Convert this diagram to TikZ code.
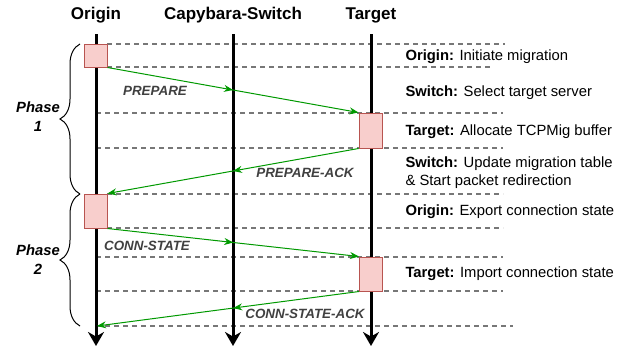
\documentclass[tikz,border=0pt]{standalone}
\usepackage{fontspec}
\setmainfont{Liberation Sans}
\usetikzlibrary{arrows.meta, positioning, calc, decorations.pathreplacing, decorations.markings}

\definecolor{boxfill}{HTML}{F8CECC}
\definecolor{boxline}{HTML}{B85450}
\definecolor{msggreen}{HTML}{009900}
\definecolor{msgtext}{HTML}{404040}
\definecolor{gridgray}{HTML}{777777}

\begin{document}
\begin{tikzpicture}[
    x=1pt, y=-1pt,
    title/.style={font=\fontsize{17}{20}\selectfont\bfseries},
    lifeline/.style={line width=3pt, -{Stealth[length=14pt, width=16pt]}},
    procbox/.style={draw=boxline, fill=boxfill, line width=1pt, inner sep=0pt, minimum width=23pt},
    grid/.style={draw=gridgray, line width=1.4pt, dash pattern=on 5pt off 4pt},
    msg/.style={draw=msggreen, line width=1pt, -{Stealth[length=9pt, width=7pt]}},
    midarrow/.style={postaction={decorate}, decoration={markings,
        mark=at position #1 with {\arrow{Stealth[length=9pt, width=7pt, msggreen]}}}},
    msglabel/.style={font=\fontsize{13.4}{16}\selectfont\bfseries\itshape, text=msgtext},
    note/.style={font=\fontsize{14.8}{18}\selectfont, anchor=west, align=left},
    phase/.style={font=\fontsize{14.8}{19}\selectfont\bfseries\itshape, align=center},
    phasebrace/.style={draw, line width=1pt, decorate, decoration={brace, amplitude=20pt}}
]
\useasboundingbox (0,0) rectangle (621,348);

% actors
\node[title] (origin) at (96,15) {Origin};
\node[title] (switch) at (233,15) {Capybara-Switch};
\node[title] (target) at (371,15) {Target};

% step separators
\foreach \y/\xa/\xb in {44/107/505, 67/107/490, 113/96/503, 148/96/503, 194/107/503,
                        228/107/503, 257/96/503, 291/96/503, 326/96/513}
    \draw[grid] (\xa,\y) -- (\xb,\y);

% lifelines
\draw[lifeline] (96,34) -- (96,346);
\draw[lifeline] (233,34) -- (233,346);
\draw[lifeline] (371,34) -- (371,346);

% processing boxes
\node[procbox, minimum height=23pt] (obox1) at (95.5,55.5) {};
\node[procbox, minimum height=34pt] (obox2) at (95.5,211) {};
\node[procbox, minimum height=35pt] (tbox1) at (370.5,130.5) {};
\node[procbox, minimum height=34pt] (tbox2) at (371,274) {};
\coordinate (oend) at (97,326);

% messages
\draw[msg, midarrow=0.5] (obox1.south east) -- (tbox1.north west);
\draw[msg, midarrow=0.5] (tbox1.south west) -- (obox2.north east);
\draw[msg, midarrow=0.5] (obox2.south east) -- (tbox2.north west);
\draw[msg, midarrow=0.48] (tbox2.south west) -- (oend);
\node[msglabel] (prep) at (155,91) {PREPARE};
\node[msglabel] (prepack) at (305,173) {PREPARE-ACK};
\node[msglabel] (conn) at (147,246) {CONN-STATE};
\node[msglabel] (connack) at (305,314) {CONN-STATE-ACK};

% step descriptions
\node[note] (n1) at (402,57) {\textbf{Origin:} Initiate migration};
\node[note] (n2) at (402,93) {\textbf{Switch:} Select target server};
\node[note] (n3) at (402,132) {\textbf{Target:} Allocate TCPMig buffer};
\node[note] (n4) at (402,173) {\textbf{Switch:} Update migration table\\\& Start packet redirection};
\node[note] (n5) at (402,212) {\textbf{Origin:} Export connection state};
\node[note] (n6) at (402,274) {\textbf{Target:} Import connection state};

% phases
\draw[phasebrace] (80,194) -- (80,44);
\draw[phasebrace] (80,326) -- (80,194);
\node[phase] (ph1) at (38,117) {Phase\\1};
\node[phase] (ph2) at (38,260) {Phase\\2};
\end{tikzpicture}
\end{document}
